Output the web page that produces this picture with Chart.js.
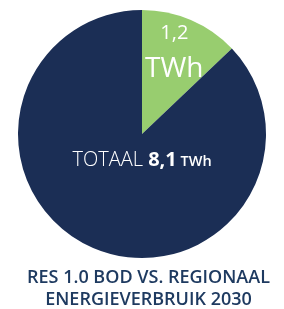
<!DOCTYPE html>
<html>
<head>
<meta charset="utf-8">
<script src="https://cdn.jsdelivr.net/npm/chart.js@4"></script>
<style>
  html, body { margin: 0; padding: 0; background: #fff; }
  #wrap { width: 284px; height: 309px; }
</style>
</head>
<body>
<div id="wrap"><canvas id="res_pie"></canvas></div>
<script>
// data
const labels = ['RES 1.0 bod', 'Regionaal energieverbruik 2030'];
const values = [1.2, 8.1];
const colors = ['#98cd6f', '#1b2e55'];
const titleLines = ['RES 1.0 BOD VS. REGIONAAL', 'ENERGIEVERBRUIK 2030'];

const FONT = "'Open Sans', 'Noto Sans', sans-serif";

// draw the slice labels on top of the arcs, and the caption below the pie
const sliceLabels = {
    id: 'sliceLabels',
    afterDatasetsDraw(chart) {
        const ctx = chart.ctx;
        const arcs = chart.getDatasetMeta(0).data;
        ctx.save();
        ctx.fillStyle = '#ffffff';
        ctx.textBaseline = 'middle';
        ctx.textAlign = 'center';

        // green slice: value on top, unit below
        const g = arcs[0];
        const mid = (g.startAngle + g.endAngle) / 2;
        const ax = g.x + Math.cos(mid) * g.outerRadius * 0.64;
        const ay = g.y + Math.sin(mid) * g.outerRadius * 0.64;
        ctx.font = '400 20px ' + FONT;
        ctx.fillText(values[0].toFixed(1).replace('.', ','), ax + 1, ay - 28);
        ctx.font = '400 28px ' + FONT;
        ctx.fillText('TWh', ax + 1, ay + 8);

        // big slice: total line in the middle
        const d = arcs[1];
        const y = d.y + d.outerRadius * 0.215;
        const parts = [
            {t: 'TOTAAL ', f: '300 20px ' + FONT},
            {t: values[1].toFixed(1).replace('.', ','), f: '700 20px ' + FONT},
            {t: ' TWh', f: '600 14.5px ' + FONT}
        ];
        let w = 0;
        parts.forEach(p => { ctx.font = p.f; w += ctx.measureText(p.t).width; });
        let x = d.x - w / 2;
        ctx.textAlign = 'left';
        parts.forEach(p => {
            ctx.font = p.f;
            ctx.fillText(p.t, x, p.t === ' TWh' ? y + 1 : y);
            x += ctx.measureText(p.t).width;
        });

        // caption, sits a little right of the pie centre like the original
        ctx.textAlign = 'center';
        ctx.fillStyle = '#1e3a60';
        ctx.font = '600 18px ' + FONT;
        const cy = chart.chartArea.bottom + 20;
        titleLines.forEach((line, i) => {
            ctx.fillText(line, d.x + 6.5, cy + i * 22);
        });
        ctx.restore();
    }
};

new Chart(document.getElementById('res_pie'), {
    type: 'pie',
    data: {
        labels: labels,
        datasets: [{
            data: values,
            backgroundColor: colors,
            borderWidth: 0
        }]
    },
    options: {
        responsive: true,
        maintainAspectRatio: false,
        animation: false,
        layout: { padding: { top: 10, left: 0, right: 0, bottom: 51 } },
        plugins: {
            legend: { display: false },
            tooltip: { enabled: false },
            title: { display: false }
        }
    },
    plugins: [sliceLabels]
});
</script>
</body>
</html>
